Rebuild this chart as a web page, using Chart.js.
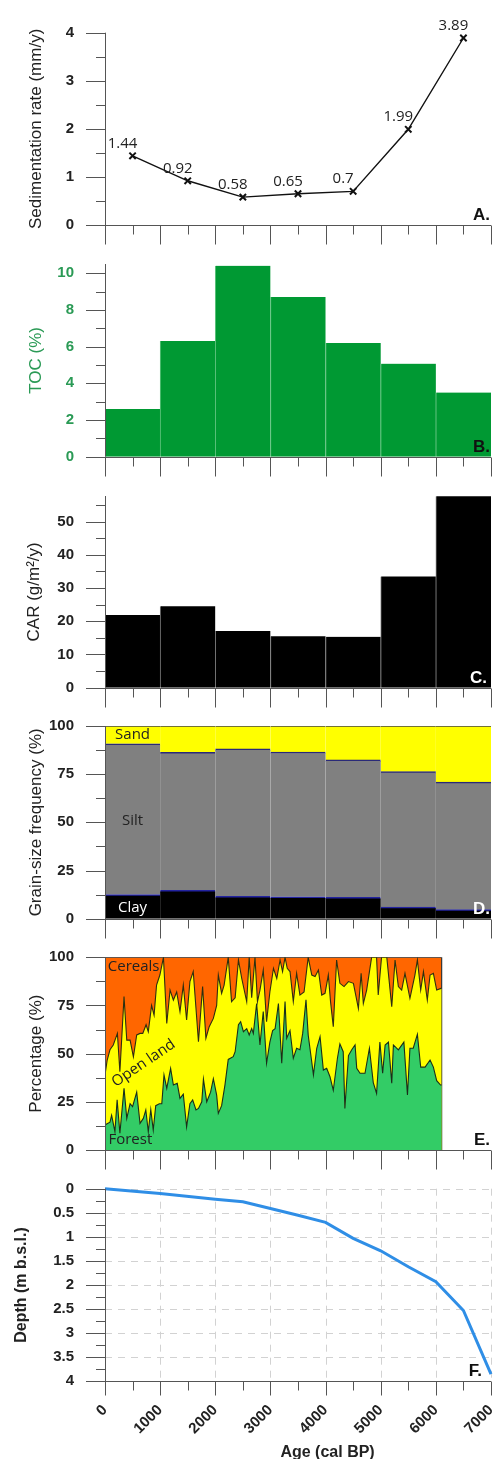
<!DOCTYPE html>
<html>
<head>
<meta charset="utf-8">
<script src="https://cdn.jsdelivr.net/npm/chart.js@4"></script>
<style>
  body { margin: 0; background: #fff; width: 499px; height: 1459px; position: relative; overflow: hidden; }
  canvas { position: absolute; left: 0; top: 0; }
</style>
</head>
<body>
<canvas id="cA" width="499" height="1459"></canvas>
<canvas id="cB" width="499" height="1459"></canvas>
<canvas id="cC" width="499" height="1459"></canvas>
<canvas id="cD" width="499" height="1459"></canvas>
<canvas id="cE" width="499" height="1459"></canvas>
<canvas id="cF" width="499" height="1459"></canvas>
<script>
// ---- data ----
const AGE_TICKS = [0, 1000, 2000, 3000, 4000, 5000, 6000, 7000];
const AGE_MINOR = [500, 1500, 2500, 3500, 4500, 5500, 6500];
const ageMid = [500, 1500, 2500, 3500, 4500, 5500, 6500];

const sedRate = [1.44, 0.92, 0.58, 0.65, 0.7, 1.99, 3.89];
const toc = [2.6, 6.3, 10.4, 8.7, 6.2, 5.07, 3.5];
const car = [21.9, 24.5, 17.1, 15.5, 15.3, 33.5, 57.6];
const clay = [12.5, 14.7, 11.6, 11.4, 11.1, 6.0, 4.7];
const silt = [78.3, 71.7, 76.5, 75.1, 71.3, 70.3, 66.2];
const sand = [9.2, 13.6, 11.9, 13.5, 17.6, 23.7, 29.1];

// pollen (cumulative %), panel E
const forestAge = [0,90,120,180,220,270,345,395,455,500,575,635,695,740,785,830,875,920,985,1030,1070,1120,1190,1240,1310,1360,1420,1480,1540,1590,1650,1695,1755,1785,1845,1915,1965,2025,2055,2115,2175,2235,2325,2360,2420,2460,2510,2570,2615,2660,2690,2750,2810,2870,2930,2990,3040,3085,3145,3205,3265,3295,3355,3415,3475,3535,3585,3645,3685,3780,3840,3900,3960,4020,4080,4140,4215,4260,4320,4350,4415,4475,4535,4565,4625,4715,4795,4865,4925,4985,5035,5080,5140,5200,5230,5320,5420,5485,5530,5590,5665,5725,5805,5895,5955,6015,6085,6105];
const forestPct = [13,14.4,18,9.5,26,8.7,32,16.4,24,22.5,30,13.8,16.4,20.8,9.5,21,10.4,23,24,24,39,32,42.4,33.7,34.6,26.8,29,12,24,26,20.8,21.6,25,36.8,25,30,37,28.5,19,23,33.7,47,48.4,51,65,66.6,61.4,63,59.7,63,60.5,76,54.5,71.8,45,56,62,63,76,45,77,58,62,47.6,52.8,52,60.5,78,59.7,39,52.8,58.8,41.5,42.4,38,31,47.6,55,51,21.6,49,52,54.5,42.4,39.8,39.8,52.8,35,29.4,56,39.8,54.5,56,34.6,54.5,52,56,28.5,52.8,52.8,60,43,43,46.7,43,36,33.7,33.7];
const openAge = [0,40,90,150,225,270,345,395,455,515,575,635,685,745,785,845,890,935,995,1060,1120,1180,1240,1300,1360,1420,1480,1540,1600,1695,1770,1830,1890,1965,2025,2055,2115,2160,2235,2295,2360,2420,2480,2570,2615,2660,2720,2765,2810,2870,2930,2990,3055,3115,3175,3220,3265,3305,3355,3415,3475,3535,3610,3685,3750,3810,3870,3930,3990,4050,4090,4140,4200,4260,4335,4415,4505,4595,4645,4685,4745,4835,4925,4955,5015,5110,5200,5260,5320,5380,5440,5530,5620,5665,5725,5775,5845,5895,5955,6015,6105];
const openPct = [39,46.7,52,54.5,60.5,40.6,79.6,57,57,48.4,59.7,60.5,60.5,65,61.4,75,70,85.6,90.8,100,65.7,83,77.8,82,71.8,85.6,67.5,87.4,92.6,56.2,84.8,58,64,68.3,75,90.8,81.3,85.6,100,77,79,98.6,89,77,100,79,100,77,83,93.4,66.6,82,94.3,89,98.6,92.6,100,94.3,92.6,77,91.7,80.4,82,100,90.8,90,93.4,80.4,81.3,90.8,77,64,98.6,86.5,84.8,87.4,86.5,73.5,91.7,76,83,100,100,80.4,100,100,74.4,98.6,84.8,83,91.7,78.7,90.8,98.6,83,92.6,77.8,90.8,91.7,83,84];
const cerealAge = [0, 6105, 6105];
const cerealPct = [100, 100, 0];

// age-depth model, panel F
const depthAge = [0, 1000, 2000, 2500, 3000, 3500, 4000, 4500, 5000, 5500, 6000, 6500, 7000];
const depth = [0, 0.1, 0.22, 0.27, 0.41, 0.55, 0.7, 1.03, 1.29, 1.62, 1.93, 2.53, 3.85];

// y tick values per panel
const sedTicks = [0, 1, 2, 3, 4], sedMinor = [0.5, 1.5, 2.5, 3.5];
const tocTicks = [0, 2, 4, 6, 8, 10], tocMinor = [1, 3, 5, 7, 9];
const carTicks = [0, 10, 20, 30, 40, 50], carMinor = [5, 15, 25, 35, 45, 55];
const pctTicks = [0, 25, 50, 75, 100], pctMinor = [12.5, 37.5, 62.5, 87.5];
const depthTicks = [0, 0.5, 1, 1.5, 2, 2.5, 3, 3.5, 4];
const depthMinor = [0.25, 0.75, 1.25, 1.75, 2.25, 2.75, 3.25, 3.75];

// ---- layout ----
const W = 499, H = 1459, L = 105, R = 491;
const SANS = '"Liberation Sans", Arial, sans-serif';
const NOTE = '"Open Sans", "DejaVu Sans", sans-serif';

Chart.defaults.font.family = SANS;
Chart.defaults.color = '#222';

const pts = (xs, ys) => xs.map((x, i) => ({ x: x, y: ys[i] }));
const plain = v => String(v);

const frame = {
    id: 'frame',
    beforeDatasetsDraw(chart, args, o) {
        if (!o.grid) return;
        const { ctx, chartArea: a } = chart, x = chart.scales.x, y = chart.scales.y;
        ctx.save();
        ctx.strokeStyle = '#d2d2d2';
        ctx.lineWidth = 1;
        ctx.setLineDash([7, 6]);
        ctx.beginPath();
        AGE_TICKS.forEach(v => {
            const p = Math.round(x.getPixelForValue(v)) + 0.5;
            ctx.moveTo(p, a.top); ctx.lineTo(p, a.bottom);
        });
        o.yMajor.forEach(v => {
            const p = Math.round(y.getPixelForValue(v)) + 0.5;
            ctx.moveTo(a.left, p); ctx.lineTo(a.right, p);
        });
        ctx.stroke();
        ctx.restore();
    },
    afterDraw(chart, args, o) {
        const { ctx, chartArea: a } = chart, x = chart.scales.x, y = chart.scales.y;
        ctx.save();
        ctx.strokeStyle = '#555';
        ctx.lineWidth = 1;
        const bx = Math.round(a.left) + 0.5, by = Math.round(a.bottom) + 0.5;
        ctx.beginPath();
        ctx.moveTo(bx, a.top); ctx.lineTo(bx, a.bottom);
        ctx.moveTo(a.left - 19, by); ctx.lineTo(a.right, by);
        o.yMajor.forEach(v => {
            const p = Math.round(y.getPixelForValue(v)) + 0.5;
            ctx.moveTo(a.left - 19, p); ctx.lineTo(a.left, p);
        });
        o.yMinor.forEach(v => {
            const p = Math.round(y.getPixelForValue(v)) + 0.5;
            ctx.moveTo(a.left - 9, p); ctx.lineTo(a.left, p);
        });
        AGE_TICKS.forEach(v => {
            const p = Math.round(x.getPixelForValue(v)) + 0.5;
            ctx.moveTo(p, by); ctx.lineTo(p, by + o.xTick);
        });
        AGE_MINOR.forEach(v => {
            const p = Math.round(x.getPixelForValue(v)) + 0.5;
            ctx.moveTo(p, by); ctx.lineTo(p, by + 9);
        });
        ctx.stroke();

        // value labels beside the points
        if (o.pointLabels) {
            ctx.fillStyle = '#222';
            ctx.font = '15px ' + NOTE;
            ctx.textAlign = 'center';
            ctx.textBaseline = 'alphabetic';
            chart.getDatasetMeta(0).data.forEach((pt, i) => {
                ctx.fillText(String(sedRate[i]), pt.x - 10, pt.y - 8);
            });
        }

        // text notes inside the plot
        (o.notes || []).forEach(n => {
            ctx.save();
            ctx.fillStyle = n.color;
            ctx.font = '15px ' + NOTE;
            ctx.textAlign = 'center';
            ctx.textBaseline = 'middle';
            ctx.translate(x.getPixelForValue(n.x), y.getPixelForValue(n.y));
            if (n.rot) ctx.rotate(n.rot * Math.PI / 180);
            ctx.fillText(n.text, 0, 0);
            ctx.restore();
        });

        // panel letter
        ctx.fillStyle = o.letterColor || '#111';
        ctx.font = 'bold 17px ' + SANS;
        ctx.textAlign = 'right';
        ctx.textBaseline = 'alphabetic';
        ctx.fillText(o.letter, a.right - 1 - (o.letterShift || 0), a.bottom - 5);

        if (o.xTitle) {
            ctx.fillStyle = '#222';
            ctx.font = 'bold 16px ' + SANS;
            ctx.textAlign = 'center';
            ctx.fillText(o.xTitle, x.getPixelForValue(4000) + 2, H - 2);
        }
        ctx.restore();
    }
};
Chart.register(frame);

function yScale(min, max, ticks, title, color, titleOpts) {
    return {
        min: min, max: max,
        reverse: !!titleOpts.reverse,
        afterBuildTicks: s => { s.ticks = ticks.map(v => ({ value: v })); },
        afterFit: s => { s.width = L; s.paddingTop = 0; s.paddingBottom = 0; },
        grid: { display: false, drawTicks: false },
        border: { display: false },
        ticks: { padding: 31, autoSkip: false, color: color, callback: plain, font: { size: 15, weight: 'bold' } },
        title: {
            display: true, text: title, color: color,
            font: { size: titleOpts.bold ? 16 : 17, weight: titleOpts.bold ? 'bold' : 'normal' },
            padding: { top: titleOpts.pad, bottom: 0 }
        }
    };
}

function options(top, bottom, y, frameOpts, xOverride) {
    return {
        responsive: false,
        animation: false,
        events: [],
        layout: { padding: { top: top, bottom: H - bottom, left: 0, right: W - R } },
        plugins: { legend: { display: false }, tooltip: { enabled: false }, frame: frameOpts },
        scales: {
            x: xOverride || { type: 'linear', min: 0, max: 7000, offset: false, display: false },
            y: y
        }
    };
}

// A. sedimentation rate
new Chart(document.getElementById('cA'), {
    type: 'line',
    data: {
        datasets: [{
            data: pts(ageMid, sedRate),
            borderColor: '#111', borderWidth: 1.4,
            pointStyle: 'crossRot', pointRadius: 4.5, pointBorderWidth: 2,
            pointBorderColor: '#111', tension: 0, clip: false
        }]
    },
    options: options(32.7, 225, yScale(0, 4, sedTicks, 'Sedimentation rate (mm/y)', '#222', { pad: 26 }),
        { yMajor: sedTicks, yMinor: sedMinor, xTick: 19, letter: 'A.', pointLabels: true })
});

// B. TOC
new Chart(document.getElementById('cB'), {
    type: 'bar',
    data: {
        datasets: [{
            data: pts(ageMid, toc),
            backgroundColor: '#009933', borderColor: '#5cc27c',
            borderWidth: { left: 1, right: 0, top: 0, bottom: 0 },
            barPercentage: 1, categoryPercentage: 1
        }]
    },
    options: options(264, 456.7, yScale(0, 10.5, tocTicks, 'TOC (%)', '#2a9a55', { pad: 26 }),
        { yMajor: tocTicks, yMinor: tocMinor, xTick: 19, letter: 'B.' })
});

// C. CAR
new Chart(document.getElementById('cC'), {
    type: 'bar',
    data: {
        datasets: [{
            data: pts(ageMid, car),
            backgroundColor: '#000', borderColor: '#777',
            borderWidth: { left: 1, right: 0, top: 0, bottom: 0 },
            barPercentage: 1, categoryPercentage: 1
        }]
    },
    options: options(496, 687.7, yScale(0, 57.7, carTicks, 'CAR (g/m²/y)', '#222', { pad: 24 }),
        { yMajor: carTicks, yMinor: carMinor, xTick: 19, letter: 'C.', letterColor: '#fff', letterShift: 3 })
});

// D. grain size
const stackX = { type: 'linear', min: 0, max: 7000, offset: false, display: false, stacked: true };
const yD = yScale(0, 100, pctTicks, 'Grain-size frequency (%)', '#222', { pad: 26 });
yD.stacked = true;
new Chart(document.getElementById('cD'), {
    type: 'bar',
    data: {
        datasets: [
            { data: pts(ageMid, clay), backgroundColor: '#000', borderColor: '#2323a0',
              borderWidth: { top: 1.5, left: 0, right: 0, bottom: 0 }, barPercentage: 1, categoryPercentage: 1 },
            { data: pts(ageMid, silt), backgroundColor: '#808080', borderColor: '#2a2a78',
              borderWidth: { top: 1.5, left: 0, right: 0, bottom: 0 }, barPercentage: 1, categoryPercentage: 1 },
            { data: pts(ageMid, sand), backgroundColor: '#ffff00', borderColor: '#444',
              borderWidth: { top: 1, left: 0, right: 0, bottom: 0 }, barPercentage: 1, categoryPercentage: 1 }
        ]
    },
    options: options(726, 918.7, yD,
        { yMajor: pctTicks, yMinor: pctMinor, xTick: 19, letter: 'D.', letterColor: '#fff',
          notes: [
              { text: 'Sand', x: 500, y: 95.5, color: '#222' },
              { text: 'Silt', x: 500, y: 51, color: '#222' },
              { text: 'Clay', x: 500, y: 5.5, color: '#fff' }
          ] }, stackX)
});

// E. pollen percentages
new Chart(document.getElementById('cE'), {
    type: 'line',
    data: {
        datasets: [
            { data: pts(forestAge, forestPct), borderColor: '#1a2e1a', borderWidth: 1.1,
              backgroundColor: '#33cc66', fill: 'origin', pointRadius: 0, tension: 0 },
            { data: pts(openAge, openPct), borderColor: '#2e2e10', borderWidth: 1.1,
              backgroundColor: '#ffff00', fill: 'origin', pointRadius: 0, tension: 0 },
            { data: pts(cerealAge, cerealPct), borderColor: '#333', borderWidth: 1.2,
              backgroundColor: '#ff6600', fill: 'origin', pointRadius: 0, tension: 0 }
        ]
    },
    options: options(957.3, 1150, yScale(0, 100, pctTicks, 'Percentage (%)', '#222', { pad: 26 }),
        { yMajor: pctTicks, yMinor: pctMinor, xTick: 19, letter: 'E.',
          notes: [
              { text: 'Cereals', x: 520, y: 95, color: '#222' },
              { text: 'Open land', x: 700, y: 45, color: '#222', rot: -34 },
              { text: 'Forest', x: 460, y: 5.5, color: '#222' }
          ] })
});

// F. age-depth
const xF = {
    type: 'linear', min: 0, max: 7000, offset: false, display: true,
    afterBuildTicks: s => { s.ticks = AGE_TICKS.map(v => ({ value: v })); },
    afterFit: s => { s.height = H - 1381.3; s.paddingLeft = 0; s.paddingRight = 0; },
    grid: { display: false, drawTicks: false },
    border: { display: false },
    ticks: { minRotation: 45, maxRotation: 45, padding: 20, autoSkip: false, color: '#222',
             callback: plain, font: { size: 15, weight: 'bold' } }
};
new Chart(document.getElementById('cF'), {
    type: 'line',
    data: {
        datasets: [{
            data: pts(depthAge, depth),
            borderColor: '#2f8ee6', borderWidth: 3, pointRadius: 0, tension: 0, clip: false
        }]
    },
    options: options(1188.7, H, yScale(0, 4, depthTicks, 'Depth (m b.s.l.)', '#222', { pad: 12, bold: true, reverse: true }),
        { yMajor: depthTicks, yMinor: depthMinor, xTick: 14, letter: 'F.', letterShift: 8, grid: true, xTitle: 'Age (cal BP)' }, xF)
});
</script>
</body>
</html>
